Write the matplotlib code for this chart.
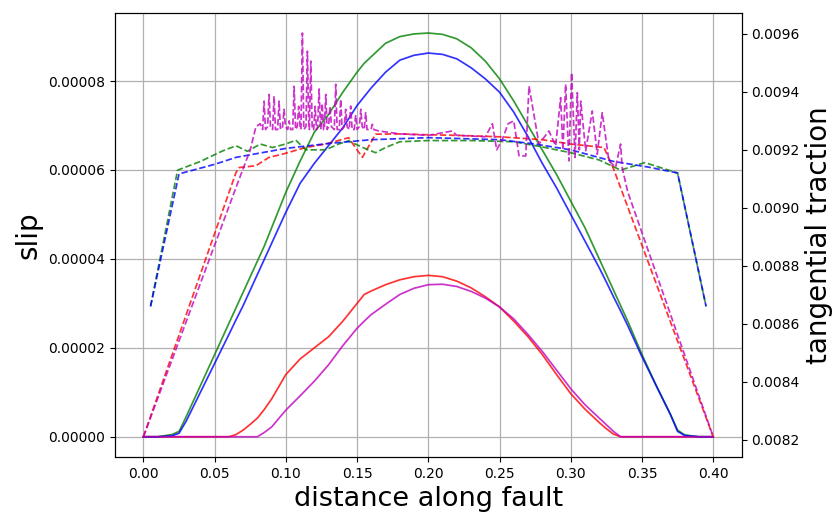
import numpy as np
import matplotlib
matplotlib.use('Agg')
import matplotlib.pyplot as plt
from matplotlib.ticker import FormatStrFormatter, MultipleLocator

# slip curves (units of 1e-5), common x grid
x_slip = [0.0, 0.01, 0.02, 0.025, 0.03, 0.04, 0.05, 0.06, 0.065, 0.07, 0.075,
          0.08, 0.085, 0.09, 0.10, 0.11, 0.12, 0.13, 0.14, 0.15, 0.155, 0.16,
          0.17, 0.18, 0.19, 0.20, 0.21, 0.22, 0.23, 0.24, 0.25, 0.26, 0.27,
          0.28, 0.29, 0.30, 0.31, 0.32, 0.325, 0.33, 0.335, 0.34, 0.35, 0.36,
          0.37, 0.375, 0.38, 0.39, 0.40]

slip_red = [0, 0, 0, 0, 0, 0, 0, 0, 0.05, 0.15, 0.28,
            0.42, 0.62, 0.85, 1.4, 1.75, 2.0, 2.25, 2.6, 3.0, 3.2, 3.28,
            3.42, 3.53, 3.6, 3.63, 3.6, 3.5, 3.35, 3.15, 2.92, 2.6, 2.25,
            1.85, 1.4, 0.97, 0.62, 0.32, 0.18, 0.06, 0, 0, 0, 0,
            0, 0, 0, 0, 0]
slip_green = [0, 0, 0.05, 0.12, 0.45, 1.15, 1.85, 2.55, 2.9, 3.25, 3.6,
              3.95, 4.3, 4.7, 5.5, 6.2, 6.85, 7.25, 7.75, 8.2, 8.4, 8.55,
              8.85, 9.0, 9.06, 9.08, 9.05, 8.95, 8.75, 8.45, 8.05, 7.55, 7.0,
              6.45, 5.9, 5.3, 4.7, 4.0, 3.65, 3.3, 2.95, 2.6, 1.85, 1.15,
              0.5, 0.15, 0.04, 0, 0]
slip_blue = [0, 0, 0.02, 0.08, 0.35, 1.0, 1.65, 2.3, 2.63, 2.95, 3.3,
             3.65, 4.0, 4.35, 5.05, 5.7, 6.15, 6.55, 6.95, 7.45, 7.65, 7.85,
             8.2, 8.47, 8.58, 8.63, 8.6, 8.5, 8.3, 8.05, 7.75, 7.3, 6.75,
             6.15, 5.6, 5.0, 4.4, 3.8, 3.48, 3.15, 2.83, 2.5, 1.8, 1.15,
             0.5, 0.12, 0.03, 0, 0]
slip_magenta = [0, 0, 0, 0, 0, 0, 0, 0, 0, 0, 0,
                0, 0.1, 0.22, 0.6, 0.92, 1.25, 1.62, 2.05, 2.44, 2.6, 2.75,
                2.98, 3.2, 3.34, 3.42, 3.43, 3.38, 3.27, 3.12, 2.92, 2.65, 2.3,
                1.92, 1.5, 1.08, 0.72, 0.42, 0.27, 0.12, 0, 0, 0, 0,
                0, 0, 0, 0, 0]

# tangential traction curves
x_tr_red = [0.0, 0.065, 0.0673, 0.0789, 0.0882, 0.0975, 0.114, 0.128, 0.144,
            0.1537, 0.163, 0.18, 0.20, 0.22, 0.25, 0.28, 0.30, 0.3233, 0.330, 0.40]
tr_red = [0.00821, 0.009122, 0.009139, 0.009145, 0.009174, 0.009185, 0.009208,
          0.00922, 0.009242, 0.009174, 0.009254, 0.009255, 0.009252, 0.00925,
          0.009245, 0.009235, 0.00922, 0.009208, 0.009135, 0.00821]

x_tr_green = [0.005, 0.024, 0.04, 0.055, 0.065, 0.073, 0.082, 0.0905, 0.0998,
              0.107, 0.114, 0.128, 0.137, 0.144, 0.154, 0.163, 0.170, 0.18,
              0.20, 0.23, 0.26, 0.28, 0.30, 0.32, 0.335, 0.352, 0.375, 0.395]
tr_green = [0.00866, 0.00913, 0.00916, 0.009195, 0.009214, 0.009195, 0.00922,
            0.009208, 0.00922, 0.009233, 0.0092, 0.0092, 0.00922, 0.009231,
            0.009208, 0.00919, 0.009208, 0.009228, 0.009232, 0.009232,
            0.009228, 0.00921, 0.00919, 0.009165, 0.00913, 0.009156,
            0.00912, 0.00866]

x_tr_blue = [0.005, 0.025, 0.05, 0.065, 0.10, 0.13, 0.16, 0.20, 0.25, 0.275,
             0.30, 0.33, 0.355, 0.375, 0.395]
tr_blue = [0.00866, 0.009117, 0.00915, 0.009174, 0.009205, 0.009222, 0.009235,
           0.009242, 0.009235, 0.00922, 0.0092, 0.00916, 0.00914, 0.00912,
           0.00866]

# magenta traction: ramp, spiky zone, plateau, second spiky zone, ramp down
mag_ramp_x = [0.0, 0.065, 0.075, 0.079, 0.082]
mag_ramp = [0.00821, 0.00907, 0.00920, 0.00928, 0.00929]
mag_spike_x = [0.0847, 0.0882, 0.0917, 0.0952, 0.0987, 0.1023, 0.1058, 0.1090,
               0.1116, 0.1151, 0.1175, 0.1205, 0.1233, 0.1255, 0.1280, 0.1310,
               0.1350, 0.1385, 0.1420, 0.1455, 0.1490, 0.1526, 0.1560, 0.1607]
mag_spike_top = [0.009368, 0.009391, 0.009385, 0.009368, 0.00934, 0.00930,
                 0.009419, 0.00935, 0.009603, 0.00954, 0.009506, 0.00935,
                 0.00941, 0.00936, 0.009391, 0.00935, 0.009426, 0.009374,
                 0.00934, 0.009351, 0.00932, 0.00934, 0.009328, 0.009288]
mag_spike_base = [0.00927, 0.00928, 0.00927, 0.00927, 0.00928, 0.00927,
                  0.00927, 0.00928, 0.00927, 0.00928, 0.00927, 0.00927,
                  0.00928, 0.00927, 0.00927, 0.00928, 0.00927, 0.00927,
                  0.00928, 0.00927, 0.00927, 0.00928, 0.00927, 0.00927]
mag_rest_x = [0.1654, 0.18, 0.20, 0.2167, 0.22, 0.24,
              0.245, 0.248, 0.252, 0.256, 0.260, 0.2637, 0.2684, 0.2707,
              0.2777, 0.2847, 0.2894, 0.2929, 0.2945, 0.2964, 0.2987, 0.3006,
              0.303, 0.3046, 0.306, 0.307, 0.3105, 0.3151, 0.3186, 0.3221,
              0.3268, 0.3315, 0.335, 0.3361, 0.340, 0.40]
mag_rest = [0.009265, 0.009255, 0.00925, 0.009265, 0.00925, 0.009245,
            0.00929, 0.0092, 0.009236, 0.00929, 0.0093, 0.009179, 0.009179,
            0.00942, 0.00922, 0.009265, 0.009214, 0.00938, 0.0092, 0.009426,
            0.009162, 0.009466, 0.009174, 0.009397, 0.0092, 0.009368,
            0.009197, 0.009334, 0.009185, 0.009328, 0.009162, 0.00914,
            0.00922, 0.009139, 0.009055, 0.00821]

half_w = 0.001  # half width of a spike column
x_tr_magenta = list(mag_ramp_x)
tr_magenta = list(mag_ramp)
for xs, top, base in zip(mag_spike_x, mag_spike_top, mag_spike_base):
    x_tr_magenta += [xs - half_w, xs, xs + half_w]
    tr_magenta += [base, top, base]
x_tr_magenta += mag_rest_x
tr_magenta += mag_rest

fig = plt.figure(figsize=(8.39, 5.14), dpi=100)
ax = fig.add_axes([0.137, 0.111, 0.747, 0.864])
ax2 = ax.twinx()

lw = 1.25
al = 0.8
ax.plot(x_slip, np.array(slip_red) * 1e-5, color='r', lw=lw, alpha=al)
ax.plot(x_slip, np.array(slip_green) * 1e-5, color='g', lw=lw, alpha=al)
ax.plot(x_slip, np.array(slip_blue) * 1e-5, color='b', lw=lw, alpha=al)
ax.plot(x_slip, np.array(slip_magenta) * 1e-5, color='m', lw=lw, alpha=al)

ax2.plot(x_tr_red, tr_red, color='r', ls='--', lw=lw, alpha=al)
ax2.plot(x_tr_green, tr_green, color='g', ls='--', lw=lw, alpha=al)
ax2.plot(x_tr_blue, tr_blue, color='b', ls='--', lw=lw, alpha=al)
ax2.plot(x_tr_magenta, tr_magenta, color='m', ls='--', lw=lw, alpha=al)

ax.grid(True, color='#b0b0b0', lw=0.9)
ax.yaxis.set_major_formatter(FormatStrFormatter('%.5f'))
ax.yaxis.set_major_locator(MultipleLocator(0.00002))
ax2.yaxis.set_major_formatter(FormatStrFormatter('%.4f'))
ax2.yaxis.set_major_locator(MultipleLocator(0.0002))
ax.tick_params(labelsize=10)
ax2.tick_params(labelsize=10)

ax.set_xlabel('distance along fault', fontsize=19.5)
ax.set_ylabel('slip', fontsize=20)
ax2.set_ylabel('tangential traction', fontsize=20)

fig.savefig('out.png', dpi=100)
